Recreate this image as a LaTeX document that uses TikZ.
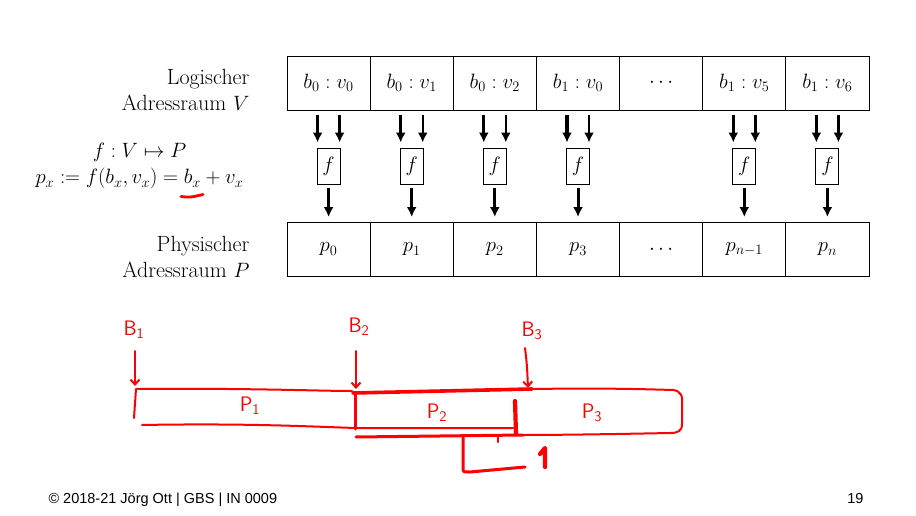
\documentclass[tikz,border=0pt]{standalone}
\usepackage{fontspec}
\newfontfamily\footfont{Liberation Sans}
\usetikzlibrary{arrows.meta}
\begin{document}
\begin{tikzpicture}[x=1pt,y=-1pt,
  cell/.style={draw, line width=0.9pt, minimum width=83.14pt, minimum height=54pt, inner sep=0pt, font=\fontsize{21}{24}\selectfont},
  fcell/.style={draw, line width=0.9pt, minimum width=23pt, minimum height=36pt, inner sep=0pt, font=\fontsize{21}{24}\selectfont},
  lbl/.style={align=right, anchor=east, font=\fontsize{22}{26.5}\selectfont},
  mth/.style={anchor=base, font=\fontsize{20}{24}\selectfont},
  arrA/.style={line width=3.2pt, -{Latex[length=10pt,width=10pt]}, shorten <=5pt, shorten >=5pt},
  arrB/.style={line width=2.4pt, -{Latex[length=10pt,width=10pt]}, shorten <=5pt, shorten >=5pt},
  arrC/.style={line width=3pt, -{Latex[length=10pt,width=10pt]}, shorten <=4pt, shorten >=5pt},
  redthin/.style={draw=red, line width=2pt, line cap=round, line join=round},
  redthick/.style={draw=red, line width=3.6pt, line cap=round, line join=round},
  redarr/.style={redthin, -{Straight Barb[length=5pt,width=9pt]}},
  redtext/.style={text=red, inner sep=1pt, font=\fontsize{21}{24}\sffamily},
  foot/.style={font=\fontsize{14.5}{17}\footfont}
]
\useasboundingbox (0,0) rectangle (916,516);

% top and bottom rows
\node[cell] (t1) at (328.6,83) {$b_0:v_0$};
\node[cell] (t2) at (411.7,83) {$b_0:v_1$};
\node[cell] (t3) at (494.8,83) {$b_0:v_2$};
\node[cell] (t4) at (578.0,83) {$b_1:v_0$};
\node[cell] (t5) at (661.1,83) {$\cdots$};
\node[cell] (t6) at (744.3,83) {$b_1:v_5$};
\node[cell] (t7) at (827.4,83) {$b_1:v_6$};

\node[cell] (p1) at (328.6,249.5) {$p_0$};
\node[cell] (p2) at (411.7,249.5) {$p_1$};
\node[cell] (p3) at (494.8,249.5) {$p_2$};
\node[cell] (p4) at (578.0,249.5) {$p_3$};
\node[cell] (p5) at (661.1,249.5) {$\cdots$};
\node[cell] (p6) at (744.3,249.5) {$p_{n-1}$};
\node[cell] (p7) at (827.4,249.5) {$p_n$};

\foreach \i in {1,2,3,4,6,7}{
  \path (t\i) ++(0,83) node[fcell] (f\i) {$f$};
  \draw[arrA] ([xshift=-11pt]t\i.south) -- ([xshift=-11pt]f\i.north);
  \draw[arrB] ([xshift=11pt]t\i.south) -- ([xshift=11pt]f\i.north);
  \draw[arrC] (f\i.south) -- (p\i.north);
}

% left labels
\node[lbl] (lv) at (253,90) {Logischer\\Adressraum $V$};
\node[lbl] (lp) at (253,257) {Physischer\\Adressraum $P$};
\node[mth] (fdef) at (139.5,158) {$f : V \mapsto P$};
\node[mth] (pdef) at (139.5,184) {$p_x \mathrel{:=} f(b_x, v_x) = b_x + v_x$};

% red underline
\draw[redthick, line width=2.8pt] (181,196.5) .. controls (190,197.5) .. (203,194.5);

% red sketch
\node[redtext] (B1) at (134,330) {B\textsubscript{1}};
\node[redtext] (B2) at (359,327) {B\textsubscript{2}};
\node[redtext] (B3) at (532,331) {B\textsubscript{3}};
\coordinate (b1end) at (135,386);
\coordinate (b2end) at (356,389);
\coordinate (b3end) at (528,388);
\draw[redarr] (135,351) -- (b1end);
\draw[redarr] (356,351) -- (b2end);
\draw[redarr] (525,348) .. controls (527,365) .. (b3end);

% P1
\draw[redthin] (134,418) -- (136,389) .. controls (250,388) and (320,391) .. (352,391);
\draw[redthin] (142,425) .. controls (250,423) and (320,427) .. (356,428) -- (513,428);
% P2
\draw[redthick] (353,393) -- (532,389);
\draw[redthick, line width=3pt] (355,393) -- (355,429);
\draw[redthick, line width=4.2pt] (515,401) -- (516,434);
\draw[redthick, line width=3pt] (356,437) -- (523,435);
\draw[redthick, line width=3pt] (463,436) -- (463,468) .. controls (463,472) .. (470,472) -- (525,467);
\draw[redthin, line width=2.5pt] (498,436) -- (498,442);
\draw[redthick, line width=4.2pt] (545,467) -- (545,448) -- (540,454);
% P3
\draw[redthin] (532,389) .. controls (600,388) and (640,389) .. (673,390) .. controls (681,391) and (683,396) .. (682,405) -- (682,424) .. controls (682,431) and (678,433) .. (670,433) .. controls (620,434) and (560,435) .. (523,435);

\node[redtext] (P1) at (250,406) {P\textsubscript{1}};
\node[redtext] (P2) at (437,413) {P\textsubscript{2}};
\node[redtext] (P3) at (592,413) {P\textsubscript{3}};

% footer
\node[foot, anchor=base west] (copy) at (45,503) {© 2018-21 Jörg Ott | GBS | IN 0009};
\node[foot, anchor=base east] (pg) at (867,503) {19};
\end{tikzpicture}
\end{document}
